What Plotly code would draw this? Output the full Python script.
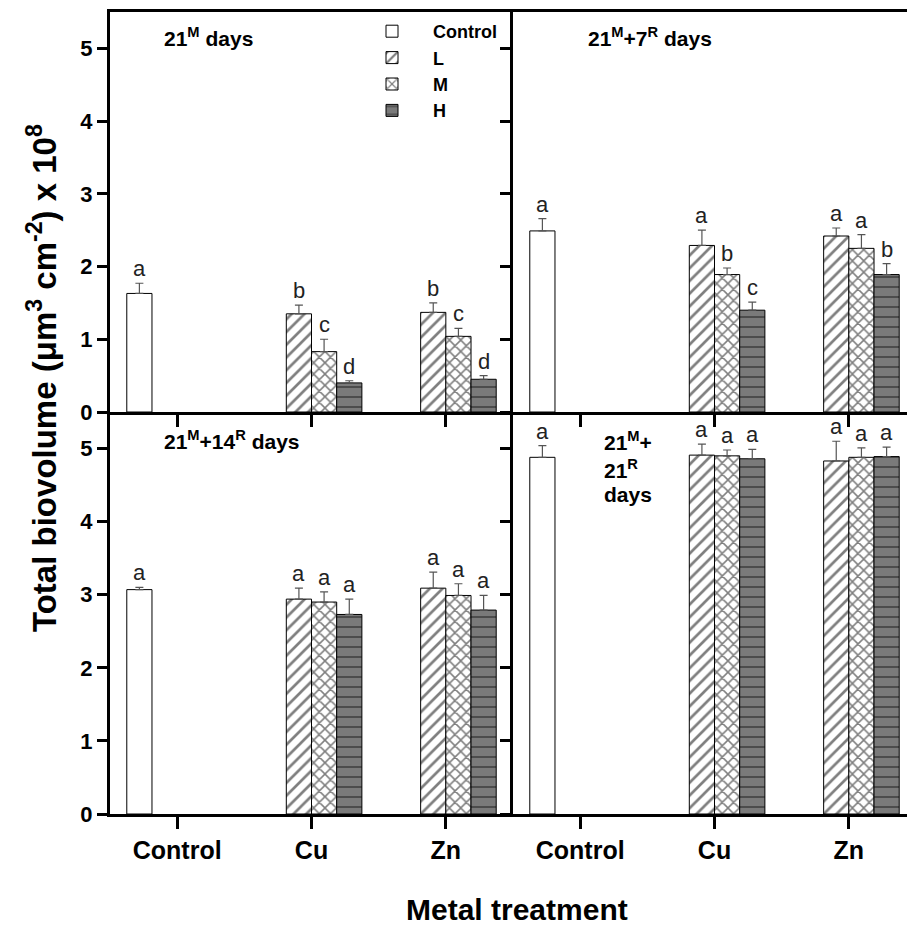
import plotly.graph_objects as go

# ---------------- data ----------------
categories = ["Control", "Cu", "Zn"]
panel_titles = [
    "21<sup>M</sup> days",
    "21<sup>M</sup>+7<sup>R</sup> days",
    "21<sup>M</sup>+14<sup>R</sup> days",
    "21<sup>M</sup>+<br>21<sup>R</sup><br>days",
]
series_names = ["Control", "L", "M", "H"]

# Control (only at the "Control" category), one value per panel
control_mean = [1.63, 2.49, 3.07, 4.88]
control_err = [0.14, 0.17, 0.03, 0.16]
control_letters = ["a", "a", "a", "a"]

# L / M / H at [Cu, Zn], one pair per panel
L_mean = [[1.35, 1.37], [2.29, 2.42], [2.94, 3.09], [4.91, 4.83]]
L_err = [[0.12, 0.13], [0.21, 0.11], [0.15, 0.22], [0.15, 0.27]]
L_letters = [["b", "b"], ["a", "a"], ["a", "a"], ["a", "a"]]

M_mean = [[0.83, 1.04], [1.89, 2.25], [2.90, 2.99], [4.90, 4.88]]
M_err = [[0.17, 0.11], [0.09, 0.19], [0.14, 0.16], [0.08, 0.13]]
M_letters = [["c", "c"], ["b", "a"], ["a", "a"], ["a", "a"]]

H_mean = [[0.40, 0.45], [1.40, 1.89], [2.73, 2.79], [4.86, 4.89]]
H_err = [[0.03, 0.05], [0.11, 0.15], [0.21, 0.20], [0.13, 0.13]]
H_letters = [["d", "d"], ["c", "b"], ["a", "a"], ["a", "a"]]

y_ticks = [0, 1, 2, 3, 4, 5]

# ---------------- geometry ----------------
W, H = 907, 928
ML, MR, MT, MB = 110, 0, 12, 114
PW, PH = W - ML - MR, H - MT - MB
split_px = 513
xsplit = (split_px - ML) / PW
ysplit = (814 - 412) / PH
px_per_unit = (split_px - ML) / 3.0
right_max = -0.5 + (W - split_px) / px_per_unit

BARGAP = 0.25
NSER = 4
bw = (1 - BARGAP) / NSER

def px(xp):
    return (xp - ML) / PW

def py(yp):
    return (814 - yp) / PH

# ---------------- styles ----------------
patterns = {
    "Control": dict(shape="", bgcolor="white"),
    "L": dict(shape="/", fgcolor="black", bgcolor="white", size=9, solidity=0.3),
    "M": dict(shape="x", fgcolor="black", bgcolor="white", size=8, solidity=0.35),
    "H": dict(shape="-", fgcolor="black", bgcolor="#7a7a7a", size=10, solidity=0.15),
}
fills = {"Control": "white", "L": "white", "M": "white", "H": "#7a7a7a"}
err_style = dict(color="#555555", thickness=1.2, width=4)

fig = go.Figure()
x_idx = list(range(len(categories)))

for p in range(4):
    xa = "x" if p == 0 else f"x{p + 1}"
    ya = "y" if p == 0 else f"y{p + 1}"
    showleg = p == 0
    fig.add_trace(go.Bar(
        x=[x_idx[0]], y=[control_mean[p]], name="Control", legendgroup="Control",
        showlegend=showleg, xaxis=xa, yaxis=ya,
        marker=dict(color=fills["Control"], line=dict(color="black", width=1),
                    pattern=patterns["Control"]),
        error_y=dict(type="data", symmetric=False, array=[control_err[p]],
                     arrayminus=[0], **err_style),
    ))
    for name, mean, err in (("L", L_mean, L_err), ("M", M_mean, M_err), ("H", H_mean, H_err)):
        fig.add_trace(go.Bar(
            x=x_idx[1:], y=mean[p], name=name, legendgroup=name,
            showlegend=showleg, xaxis=xa, yaxis=ya,
            marker=dict(color=fills[name], line=dict(color="black", width=1),
                        pattern=patterns[name]),
            error_y=dict(type="data", symmetric=False, array=err[p],
                         arrayminus=[0, 0], **err_style),
        ))

# significance letters
letter_font = dict(family="Liberation Sans, Arial", size=22, color="#222222")
for p in range(4):
    xa = "x" if p == 0 else f"x{p + 1}"
    ya = "y" if p == 0 else f"y{p + 1}"
    fig.add_annotation(x=x_idx[0] + (0 - 1.5) * bw, y=control_mean[p] + control_err[p],
                       xref=xa, yref=ya, text=control_letters[p], showarrow=False,
                       yanchor="bottom", font=letter_font)
    for k, (mean, err, let) in enumerate(((L_mean, L_err, L_letters),
                                          (M_mean, M_err, M_letters),
                                          (H_mean, H_err, H_letters)), start=1):
        for j in range(2):
            fig.add_annotation(x=x_idx[j + 1] + (k - 1.5) * bw,
                               y=mean[p][j] + err[p][j],
                               xref=xa, yref=ya, text=let[p][j], showarrow=False,
                               yanchor="bottom", font=letter_font)

# panel titles
title_font = dict(family="Liberation Sans, Arial", size=21, color="black", weight="bold")
fig.add_annotation(x=px(162), y=py(37), xref="paper", yref="paper", text=panel_titles[0],
                   showarrow=False, xanchor="left", yanchor="middle", font=title_font)
fig.add_annotation(x=px(586), y=py(37), xref="paper", yref="paper", text=panel_titles[1],
                   showarrow=False, xanchor="left", yanchor="middle", font=title_font)
fig.add_annotation(x=px(162), y=py(440), xref="paper", yref="paper", text=panel_titles[2],
                   showarrow=False, xanchor="left", yanchor="middle", font=title_font)
for line, yp in zip(panel_titles[3].split("<br>"), (441, 469, 495)):
    fig.add_annotation(x=px(602), y=py(yp), xref="paper", yref="paper", text=line,
                       showarrow=False, xanchor="left", yanchor="middle", font=title_font)

# axis titles
fig.add_annotation(x=px(42), y=py(378), xref="paper", yref="paper",
                   text="Total biovolume (μm<sup>3</sup> cm<sup>-2</sup>) x 10<sup>8</sup>",
                   textangle=-90, showarrow=False, xanchor="center", yanchor="middle",
                   font=dict(family="Liberation Sans, Arial", size=33, color="black", weight="bold"))
fig.add_annotation(x=px(517), y=py(928), xref="paper", yref="paper",
                   text="Metal treatment", showarrow=False, xanchor="center", yanchor="bottom",
                   font=dict(family="Liberation Sans, Arial", size=30, color="black", weight="bold"))

tick_font = dict(family="Liberation Sans, Arial", size=22, color="black", weight="bold")
xtick_font = dict(family="Liberation Sans, Arial", size=25, color="black", weight="bold")

def xaxis(domain, rng, anchor, labels, mirror):
    return dict(domain=domain, range=rng, anchor=anchor, tickmode="array",
                tickvals=x_idx, ticktext=categories, showticklabels=labels,
                showline=True, linecolor="black", linewidth=3, mirror=mirror,
                ticks="outside", ticklen=12, tickwidth=3, tickcolor="black",
                showgrid=False, zeroline=False, tickfont=xtick_font, fixedrange=True)

def yaxis(domain, anchor, labels):
    return dict(domain=domain, range=[0, 5.5], anchor=anchor, tickmode="array",
                tickvals=y_ticks, showticklabels=labels, showline=True,
                linecolor="black", linewidth=3, ticks="outside", ticklen=10,
                tickwidth=3, tickcolor="black", showgrid=False, zeroline=False,
                tickfont=tick_font, ticksuffix="\u00a0\u00a0", fixedrange=True)

fig.update_layout(
    width=W, height=H,
    margin=dict(l=ML, r=MR, t=MT, b=MB),
    paper_bgcolor="white", plot_bgcolor="white",
    barmode="group", bargap=BARGAP, bargroupgap=0,
    xaxis=xaxis([0, xsplit], [-0.5, 2.5], "y", False, True),
    yaxis=yaxis([ysplit, 1], "x", True),
    xaxis2=xaxis([xsplit, 1], [-0.5, right_max], "y2", False, True),
    yaxis2=yaxis([ysplit, 1], "x2", False),
    xaxis3=xaxis([0, xsplit], [-0.5, 2.5], "y3", True, False),
    yaxis3=yaxis([0, ysplit], "x3", True),
    xaxis4=xaxis([xsplit, 1], [-0.5, right_max], "y4", True, False),
    yaxis4=yaxis([0, ysplit], "x4", False),
    legend=dict(x=px(351), y=py(13), xanchor="left", yanchor="top",
                bgcolor="rgba(0,0,0,0)", borderwidth=0, itemwidth=72,
                font=dict(family="Liberation Sans, Arial", size=18, color="black", weight="bold"),
                traceorder="normal"),
    font=dict(family="Liberation Sans, Arial", color="black"),
)

fig.write_html("out.html")
